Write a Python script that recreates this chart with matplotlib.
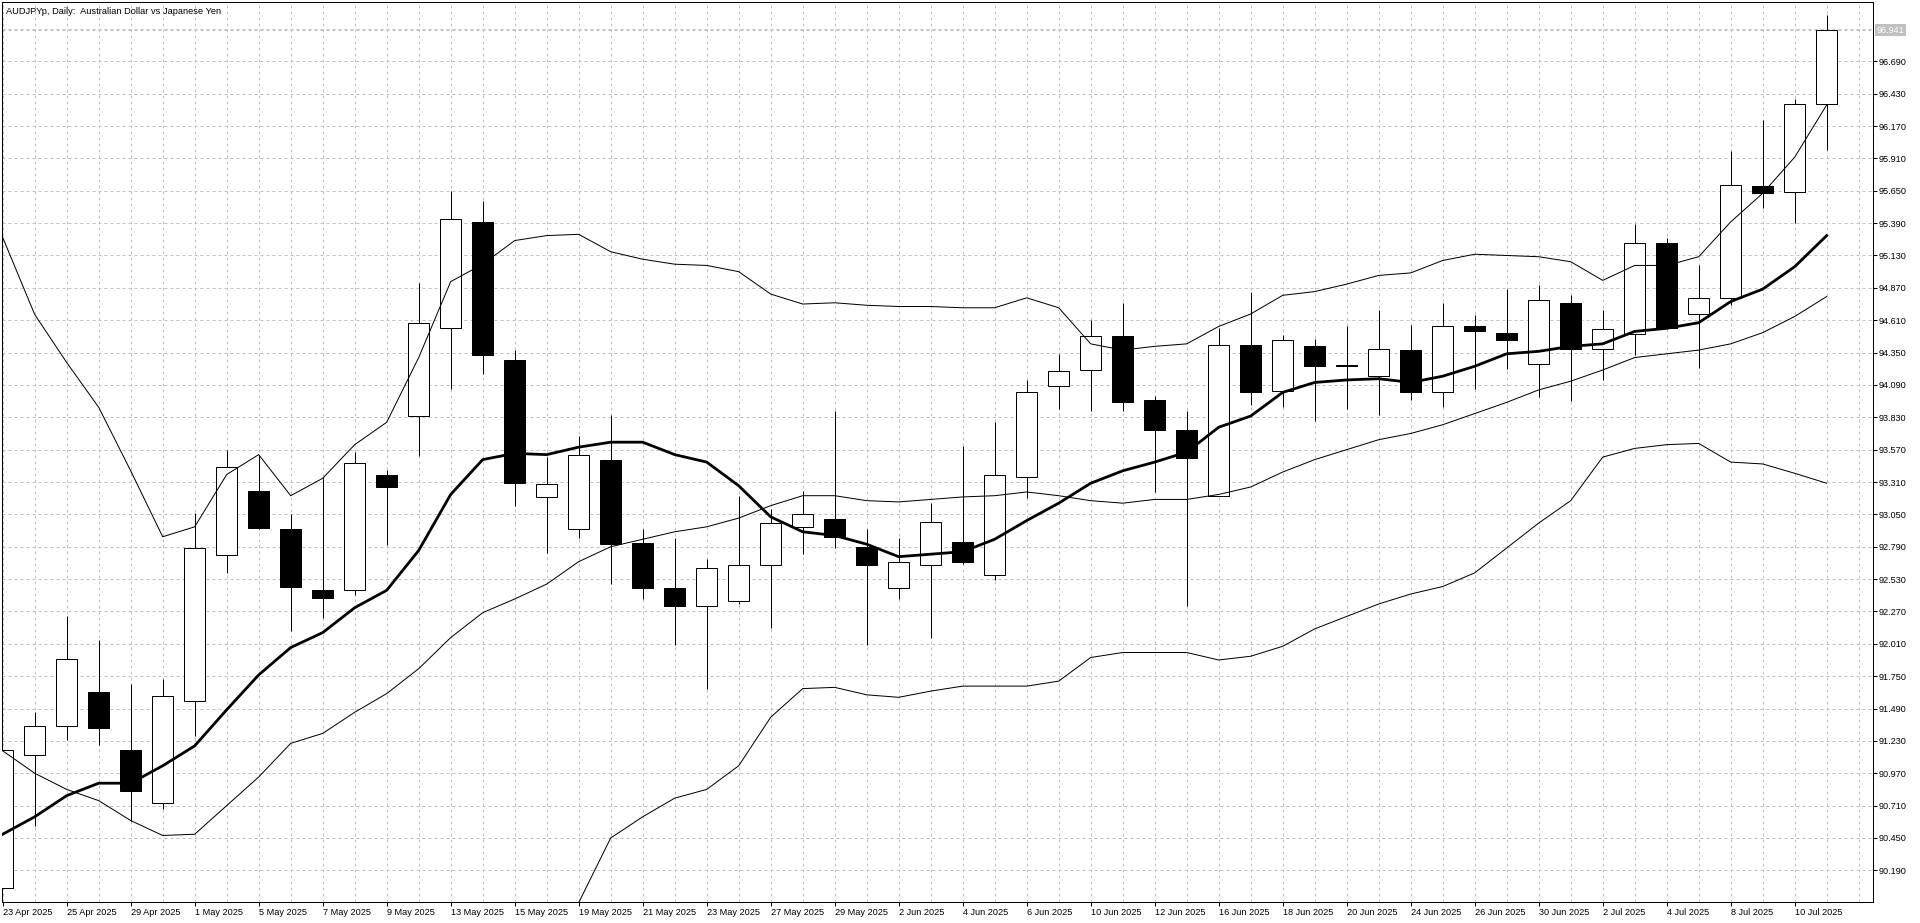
import numpy as np
import pandas as pd
import matplotlib
matplotlib.use("Agg")
from matplotlib import pyplot as plt
from matplotlib.patches import Rectangle
from matplotlib.transforms import blended_transform_factory

# daily bars, 23 Apr 2025 .. 11 Jul 2025
dates = pd.bdate_range("2025-04-23", "2025-07-11")

opens = [90.05, 91.12, 91.35, 91.62, 91.16, 90.73, 91.55, 92.72, 93.24, 92.93,
         92.44, 92.44, 93.37, 93.84, 94.55, 95.40, 94.29, 93.19, 92.93, 93.49,
         92.82, 92.46, 92.31, 92.35, 92.64, 92.95, 93.01, 92.79, 92.46, 92.64,
         92.83, 92.56, 93.35, 94.08, 94.21, 94.48, 93.97, 93.73, 93.20, 94.41,
         94.04, 94.40, 94.25, 94.16, 94.37, 94.03, 94.56, 94.51, 94.26, 94.75,
         94.38, 94.50, 95.23, 94.66, 94.79, 95.69, 95.64, 96.345]
highs = [91.16, 91.46, 92.23, 92.04, 91.69, 91.73, 93.06, 93.57, 93.53, 93.05,
         93.35, 93.55, 93.41, 94.91, 95.65, 95.57, 94.37, 93.51, 93.68, 93.85,
         92.93, 92.86, 92.69, 93.20, 93.09, 93.24, 93.88, 92.93, 92.86, 93.14,
         93.60, 93.79, 94.13, 94.34, 94.61, 94.75, 94.00, 93.88, 94.55, 94.84,
         94.49, 94.46, 94.56, 94.69, 94.57, 94.75, 94.65, 94.86, 94.89, 94.81,
         94.69, 95.38, 95.27, 95.05, 95.97, 96.22, 96.39, 97.06]
lows = [90.05, 90.55, 91.24, 91.20, 90.59, 90.68, 91.27, 92.58, 92.93, 92.11,
        92.22, 92.40, 92.80, 93.52, 94.06, 94.18, 93.12, 92.74, 92.86, 92.49,
        92.37, 92.00, 91.65, 92.33, 92.14, 92.73, 92.78, 92.00, 92.37, 92.06,
        92.65, 92.52, 93.18, 93.90, 93.88, 93.88, 93.23, 92.31, 93.20, 93.93,
        93.91, 93.80, 93.90, 93.85, 93.97, 93.91, 94.06, 94.22, 93.99, 93.96,
        94.13, 94.33, 94.54, 94.23, 94.73, 95.51, 95.39, 95.98]
closes = [91.16, 91.35, 91.89, 91.33, 90.83, 91.59, 92.78, 93.43, 92.94, 92.47,
          92.38, 93.46, 93.27, 94.59, 95.42, 94.33, 93.30, 93.29, 93.53, 92.81,
          92.46, 92.31, 92.62, 92.64, 92.98, 93.05, 92.87, 92.64, 92.67, 92.99,
          92.67, 93.37, 94.03, 94.20, 94.48, 93.95, 93.73, 93.50, 94.41, 94.03,
          94.45, 94.24, 94.24, 94.38, 94.03, 94.56, 94.52, 94.45, 94.77, 94.38,
          94.54, 95.23, 94.55, 94.79, 95.70, 95.63, 96.345, 96.941]

# indicator lines
ma_thick = [90.48, 90.62, 90.79, 90.89, 90.89, 91.03, 91.19, 91.48, 91.76, 91.98,
            92.10, 92.30, 92.44, 92.76, 93.21, 93.49, 93.54, 93.53, 93.59, 93.63,
            93.63, 93.53, 93.47, 93.28, 93.03, 92.91, 92.88, 92.81, 92.71, 92.73,
            92.75, 92.85, 93.00, 93.14, 93.30, 93.40, 93.47, 93.55, 93.75, 93.84,
            94.03, 94.11, 94.13, 94.14, 94.11, 94.16, 94.24, 94.34, 94.36, 94.40,
            94.42, 94.52, 94.545, 94.59, 94.76, 94.86, 95.04, 95.29]
band_a = [95.275, 94.656, 94.27, 93.91, 93.40, 92.87, 92.95, 93.37, 93.53, 93.20,
          93.34, 93.61, 93.79, 94.31, 94.92, 95.06, 95.25, 95.29, 95.30, 95.16,
          95.10, 95.06, 95.05, 95.00, 94.82, 94.74, 94.75, 94.73, 94.72, 94.72,
          94.71, 94.71, 94.79, 94.71, 94.42, 94.37, 94.40, 94.42, 94.56, 94.66,
          94.81, 94.84, 94.90, 94.97, 94.99, 95.09, 95.14, 95.13, 95.12, 95.08,
          94.93, 95.05, 95.05, 95.12, 95.40, 95.63, 95.92, 96.34]
band_b = [91.15, 90.97, 90.84, 90.75, 90.59, 90.47, 90.48, 90.71, 90.94, 91.21,
          91.29, 91.46, 91.61, 91.81, 92.06, 92.26, 92.37, 92.49, 92.67, 92.79,
          92.85, 92.91, 92.95, 93.02, 93.12, 93.20, 93.20, 93.16, 93.15, 93.17,
          93.19, 93.20, 93.23, 93.20, 93.16, 93.14, 93.17, 93.17, 93.21, 93.27,
          93.39, 93.49, 93.57, 93.65, 93.70, 93.77, 93.86, 93.95, 94.05, 94.12,
          94.21, 94.31, 94.34, 94.37, 94.42, 94.51, 94.64, 94.80]
band_c = [np.nan] * 17 + [
          89.40, 89.93, 90.45,
          90.62, 90.77, 90.84, 91.03, 91.42, 91.65, 91.66, 91.60, 91.58, 91.63,
          91.67, 91.67, 91.67, 91.71, 91.90, 91.94, 91.94, 91.94, 91.88, 91.91,
          91.99, 92.13, 92.23, 92.33, 92.41, 92.47, 92.58, 92.78, 92.98, 93.16,
          93.51, 93.58, 93.61, 93.62, 93.47, 93.455, 93.38, 93.30]

title = "AUDJPYp, Daily:  Australian Dollar vs Japanese Yen"
bid = closes[-1]

plt.rcParams['font.family'] = ['Liberation Sans', 'DejaVu Sans']
grid_col = '#c0c0c0'
px = 0.72  # one pixel in points at dpi 100

W, H = 1920, 923
fig = plt.figure(figsize=(W / 100, H / 100), dpi=100)
L, R, T, B = 2, 1873, 2, 902
ax = fig.add_axes([L / W, 1 - B / H, (R - L) / W, (B - T) / H])

n = len(opens)
x = np.arange(n)
ax.set_xlim((L - 2.7) / 32, (R - 2.7) / 32)
ax.set_ylim(96.69 - (B - 61.33) / 124.46, 96.69 + (61.33 - T) / 124.46)

# grid
for i in range(0, 59):
    ax.axvline(i, color=grid_col, lw=px, ls=(0, (3, 3)), zorder=0)
levels = [round(96.95 - 0.26 * k, 3) for k in range(0, 28)]
for v in levels:
    ax.axhline(v, color=grid_col, lw=px, ls=(0, (3, 3)), zorder=0)
ax.axhline(bid, color=grid_col, lw=px, ls=(0, (3, 3)), zorder=0)

# candles
w = 21 / 32
for i in range(n):
    o, h, l, c = opens[i], highs[i], lows[i], closes[i]
    ax.vlines(i, l, h, color='black', lw=px, zorder=2)
    fc = 'white' if c >= o else 'black'
    ax.add_patch(Rectangle((i - w / 2, min(o, c)), w, max(abs(c - o), 0.004),
                           facecolor=fc, edgecolor='black', lw=px, zorder=3))

ax.plot(x, band_a, color='black', lw=px, zorder=4)
ax.plot(x, band_b, color='black', lw=px, zorder=4)
ax.plot(x, band_c, color='black', lw=px, zorder=4)
ax.plot(x, ma_thick, color='black', lw=2.0, zorder=5)

# axes
for s in ax.spines.values():
    s.set_color('black')
    s.set_linewidth(px)
ax.yaxis.tick_right()
ticks_y = levels[1:27]
ax.set_yticks(ticks_y)
ax.set_yticklabels([f"{v:.3f}" for v in ticks_y])
ax.tick_params(axis='y', length=3, width=px, pad=1, labelsize=6.6, colors='black')
ticks_x = list(range(0, n, 2))
ax.set_xticks(ticks_x)
ax.set_xticklabels([f"{dates[i].day} {dates[i].strftime('%b %Y')}" for i in ticks_x],
                   ha='left')
ax.tick_params(axis='x', length=3, width=px, pad=1.5, labelsize=6.6, colors='black')

# bid label
tr = blended_transform_factory(ax.transAxes, ax.transData)
ax.text(1.0 + 3.5 / (R - L), bid, f"{bid:.3f}", transform=tr, ha='left', va='center',
        fontsize=6.6, color='white',
        bbox=dict(facecolor=grid_col, edgecolor='none', pad=1.2), zorder=6, clip_on=False)

fig.text(6 / W, 1 - 11 / H, title, fontsize=6.7, va='center', ha='left')

fig.savefig("out.png", dpi=100, facecolor='white')
